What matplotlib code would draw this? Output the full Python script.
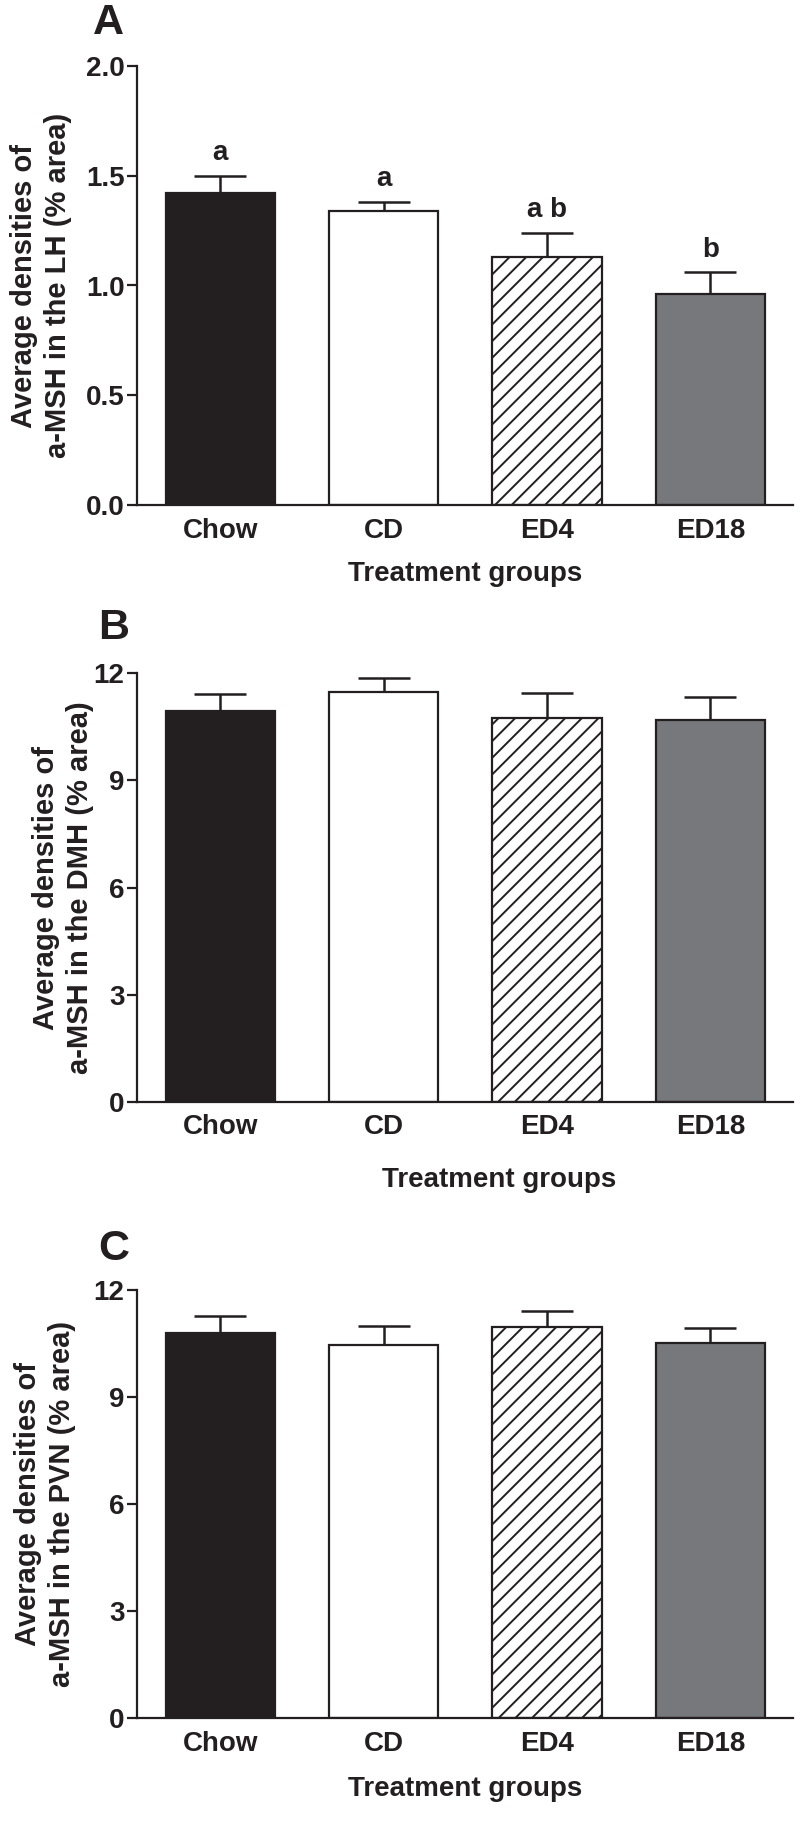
import matplotlib
matplotlib.use("Agg")
import matplotlib.pyplot as plt
import numpy as np

plt.rcParams['font.family'] = ['Liberation Sans', 'DejaVu Sans']
plt.rcParams['font.weight'] = 'bold'
plt.rcParams['hatch.linewidth'] = 1.4
plt.rcParams['hatch.color'] = '#231f20'

# data
groups = ["Chow", "CD", "ED4", "ED18"]

lh_mean = [1.42, 1.34, 1.13, 0.96]
lh_sem = [0.08, 0.04, 0.11, 0.10]
lh_letters = ["a", "a", "a b", "b"]

dmh_mean = [10.95, 11.46, 10.74, 10.68]
dmh_sem = [0.45, 0.40, 0.70, 0.65]

pvn_mean = [10.80, 10.46, 10.95, 10.52]
pvn_sem = [0.48, 0.54, 0.46, 0.42]

ink = '#231f20'
fills = [ink, 'white', 'white', '#77787b']
hatches = [None, None, '//', None]

W, H = 800, 1826
fig = plt.figure(figsize=(W / 100, H / 100), dpi=100)

# panel geometry in pixels: top, bottom of plot area
panels = [
    dict(top=66, bot=505, mean=lh_mean, sem=lh_sem, ylim=2.0, ticks=[0, 0.5, 1.0, 1.5, 2.0],
         fmt='%.1f', region='LH', tag='A', tagy=23, ylab_x=72, xlab=(465, 574), letters=lh_letters),
    dict(top=673, bot=1102, mean=dmh_mean, sem=dmh_sem, ylim=12, ticks=[0, 3, 6, 9, 12],
         fmt='%d', region='DMH', tag='B', tagy=628, ylab_x=94, xlab=(499, 1180), letters=None),
    dict(top=1290, bot=1718, mean=pvn_mean, sem=pvn_sem, ylim=12, ticks=[0, 3, 6, 9, 12],
         fmt='%d', region='PVN', tag='C', tagy=1249, ylab_x=76, xlab=(465, 1789), letters=None),
]

left, right = 137, 793
fs = 20

for p in panels:
    ax = fig.add_axes([left / W, 1 - p['bot'] / H, (right - left) / W, (p['bot'] - p['top']) / H])
    x = np.arange(len(groups))
    ax.errorbar(x, p['mean'], yerr=[np.zeros(4), p['sem']], fmt='none', ecolor=ink,
                elinewidth=1.8, capsize=19, capthick=1.8, zorder=1)
    for i in range(len(groups)):
        ax.bar(x[i], p['mean'][i], width=0.67, color=fills[i], edgecolor=ink,
               linewidth=1.6, hatch=hatches[i], zorder=2)
    if p['letters']:
        for i, t in enumerate(p['letters']):
            ax.annotate(t, (x[i], p['mean'][i] + p['sem'][i]), xytext=(0, 7),
                        textcoords='offset points', ha='center', va='bottom',
                        fontsize=fs, fontweight='bold', color=ink)

    ax.set_xlim(-0.51, 3.505)
    ax.set_ylim(0, p['ylim'])
    ax.set_yticks(p['ticks'])
    ax.yaxis.set_major_formatter(matplotlib.ticker.FormatStrFormatter(p['fmt']))
    ax.set_xticks(x)
    ax.set_xticklabels(groups)
    ax.tick_params(axis='x', length=0, pad=9, labelsize=fs, colors=ink)
    ax.tick_params(axis='y', length=7, width=1.6, pad=2, labelsize=fs, colors=ink)
    for s in ['top', 'right']:
        ax.spines[s].set_visible(False)
    for s in ['left', 'bottom']:
        ax.spines[s].set_linewidth(1.6)
        ax.spines[s].set_color(ink)

    ax.set_ylabel("Average densities of\na-MSH in the %s (%% area)" % p['region'],
                  fontsize=21, fontweight='bold', color=ink, linespacing=1.25)
    ax.yaxis.set_label_coords((p['ylab_x'] - left) / (right - left), 0.5)

    fig.text(p['xlab'][0] / W, 1 - p['xlab'][1] / H, "Treatment groups", ha='center',
             va='center', fontsize=fs, fontweight='bold', color=ink)
    fig.text(108 / W if p['tag'] == 'A' else 114 / W, 1 - p['tagy'] / H, p['tag'],
             ha='center', va='center', fontsize=31, fontweight='bold', color=ink)

fig.savefig("out.png", dpi=100)
